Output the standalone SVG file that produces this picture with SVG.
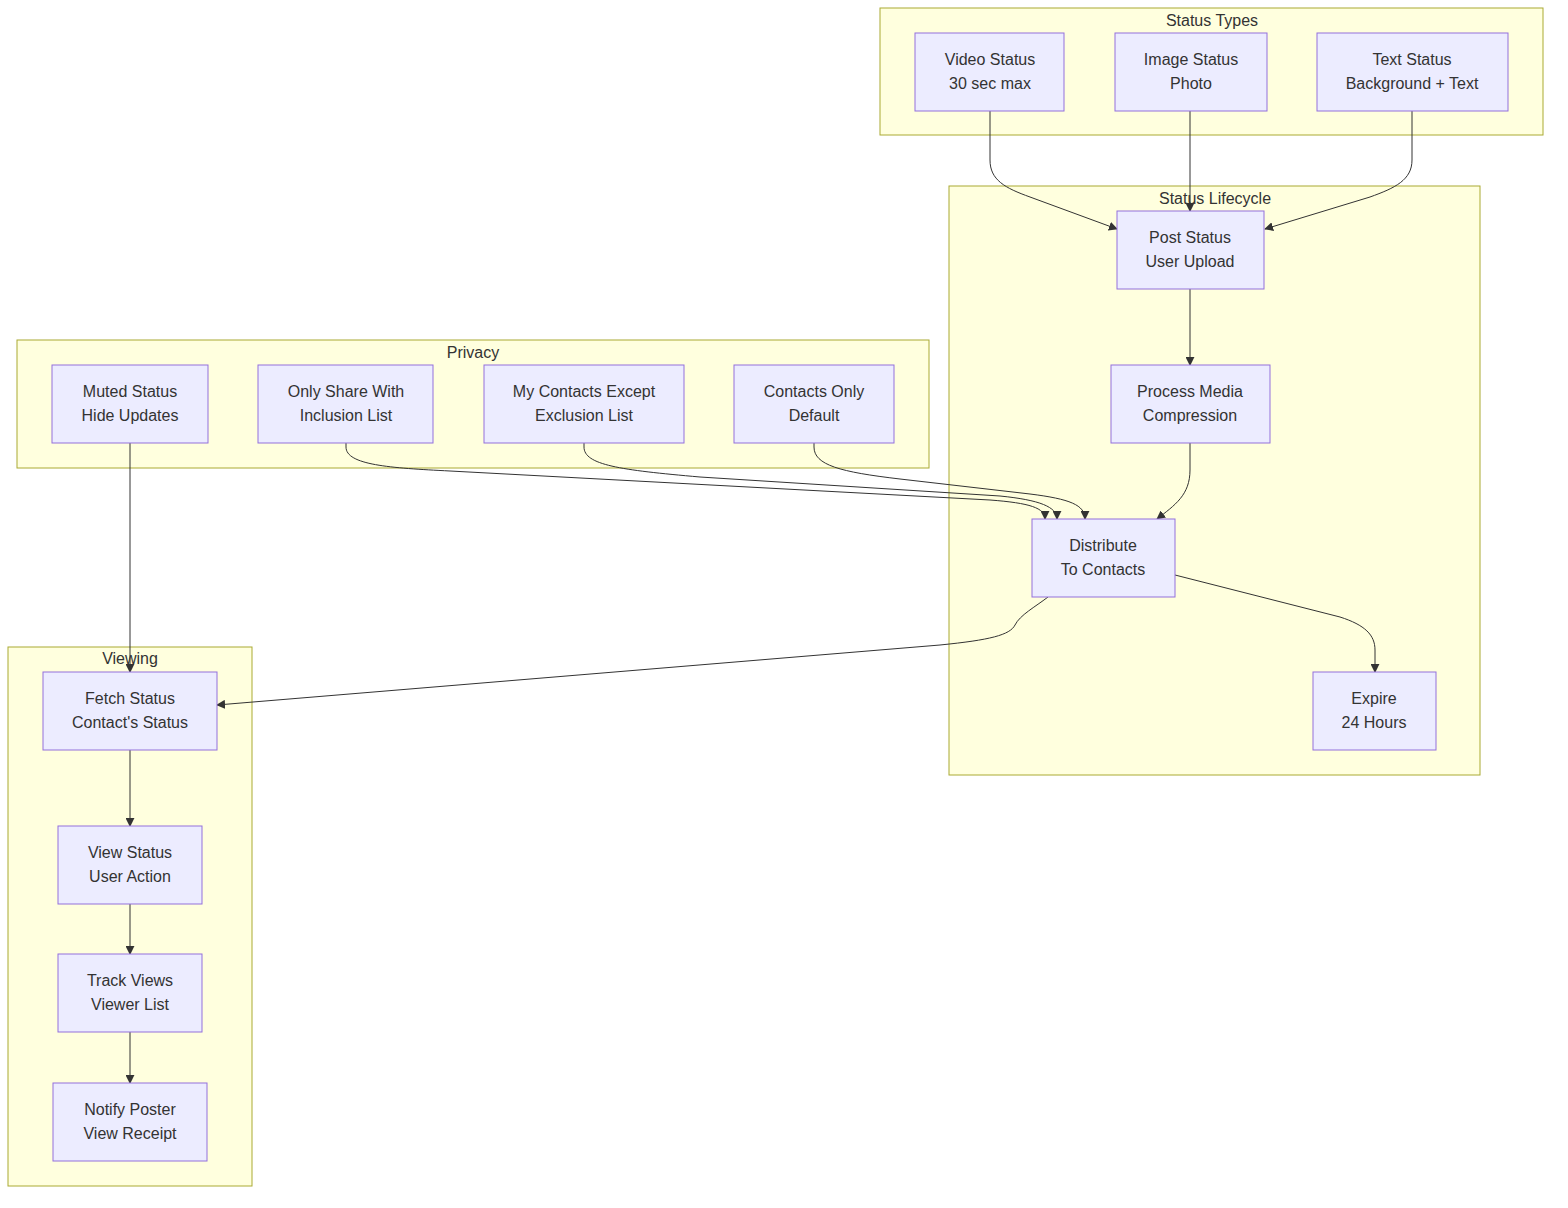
<svg xmlns="http://www.w3.org/2000/svg" width="1568" height="1208" viewBox="0 0 1568 1208">
<style>
.cl{fill:#ffffde;stroke:#aaaa33;stroke-width:1}
.nd{fill:#ececff;stroke:#9370db;stroke-width:1}
text{font-family:"Liberation Sans",Arial,sans-serif;font-size:16px;fill:#333333;text-anchor:middle;dominant-baseline:central}
.e{fill:none;stroke:#333333;stroke-width:1}
</style>
<defs>
<marker id="ah" viewBox="0 0 10 10" refX="9" refY="5" markerWidth="9" markerHeight="9" markerUnits="userSpaceOnUse" orient="auto">
<path d="M0,0 L10,5 L0,10 z" fill="#333333"/>
</marker>
</defs>
<rect width="1568" height="1208" fill="#ffffff"/>
<g id="clusters">
<g id="cl-types"><rect class="cl" x="880" y="8" width="663" height="127"/><text x="1212" y="20">Status Types</text></g>
<g id="cl-life"><rect class="cl" x="949" y="186" width="531" height="589"/><text x="1215" y="198">Status Lifecycle</text></g>
<g id="cl-privacy"><rect class="cl" x="17" y="340" width="912" height="128"/><text x="473" y="352">Privacy</text></g>
<g id="cl-viewing"><rect class="cl" x="8" y="647" width="244" height="539"/><text x="130" y="658">Viewing</text></g>
</g>
<g id="connectors">
<path class="e" marker-end="url(#ah)" d="M990,111 L990,160 C990,180 1005,188 1030,197 L1117,229"/>
<path class="e" marker-end="url(#ah)" d="M1190,111 L1190,211"/>
<path class="e" marker-end="url(#ah)" d="M1412,111 L1412,160 C1412,180 1395,188 1370,197 L1265,229"/>
<path class="e" marker-end="url(#ah)" d="M1190,289 L1190,365"/>
<path class="e" marker-end="url(#ah)" d="M1190,443 L1190,470 C1190,495 1175,505 1157,519"/>
<path class="e" marker-end="url(#ah)" d="M814,443 L814,447 C814,465 840,472 900,479 L1030,494 C1070,499 1085,505 1085,519"/>
<path class="e" marker-end="url(#ah)" d="M584,443 L584,447 C584,465 620,470 700,477 L1000,496 C1040,500 1057,507 1057,519"/>
<path class="e" marker-end="url(#ah)" d="M346,443 L346,447 C346,465 390,468 450,471 L990,500 C1030,503 1045,508 1045,519"/>
<path class="e" marker-end="url(#ah)" d="M130,443 L130,672"/>
<path class="e" marker-end="url(#ah)" d="M1048,597 C1035,607 1020,615 1015,625 C1010,635 990,640 940,645 L217,705"/>
<path class="e" marker-end="url(#ah)" d="M1175,575 L1340,617 C1365,625 1375,635 1375,650 L1375,672"/>
<path class="e" marker-end="url(#ah)" d="M130,750 L130,826"/>
<path class="e" marker-end="url(#ah)" d="M130,904 L130,954"/>
<path class="e" marker-end="url(#ah)" d="M130,1032 L130,1083"/>
</g>
<g id="n-video"><rect class="nd" x="915" y="33" width="149" height="78"/><text x="990" y="59">Video Status</text><text x="990" y="83">30 sec max</text></g>
<g id="n-image"><rect class="nd" x="1115" y="33" width="152" height="78"/><text x="1191" y="59">Image Status</text><text x="1191" y="83">Photo</text></g>
<g id="n-text"><rect class="nd" x="1317" y="33" width="191" height="78"/><text x="1412" y="59">Text Status</text><text x="1412" y="83">Background + Text</text></g>
<g id="n-post"><rect class="nd" x="1117" y="211" width="147" height="78"/><text x="1190" y="237">Post Status</text><text x="1190" y="261">User Upload</text></g>
<g id="n-process"><rect class="nd" x="1111" y="365" width="159" height="78"/><text x="1190" y="391">Process Media</text><text x="1190" y="415">Compression</text></g>
<g id="n-distribute"><rect class="nd" x="1032" y="519" width="143" height="78"/><text x="1103" y="545">Distribute</text><text x="1103" y="569">To Contacts</text></g>
<g id="n-expire"><rect class="nd" x="1313" y="672" width="123" height="78"/><text x="1374" y="698">Expire</text><text x="1374" y="722">24 Hours</text></g>
<g id="n-muted"><rect class="nd" x="52" y="365" width="156" height="78"/><text x="130" y="391">Muted Status</text><text x="130" y="415">Hide Updates</text></g>
<g id="n-only"><rect class="nd" x="258" y="365" width="175" height="78"/><text x="346" y="391">Only Share With</text><text x="346" y="415">Inclusion List</text></g>
<g id="n-except"><rect class="nd" x="484" y="365" width="200" height="78"/><text x="584" y="391">My Contacts Except</text><text x="584" y="415">Exclusion List</text></g>
<g id="n-contacts"><rect class="nd" x="734" y="365" width="160" height="78"/><text x="814" y="391">Contacts Only</text><text x="814" y="415">Default</text></g>
<g id="n-fetch"><rect class="nd" x="43" y="672" width="174" height="78"/><text x="130" y="698">Fetch Status</text><text x="130" y="722">Contact's Status</text></g>
<g id="n-view"><rect class="nd" x="58" y="826" width="144" height="78"/><text x="130" y="852">View Status</text><text x="130" y="876">User Action</text></g>
<g id="n-track"><rect class="nd" x="58" y="954" width="144" height="78"/><text x="130" y="980">Track Views</text><text x="130" y="1004">Viewer List</text></g>
<g id="n-notify"><rect class="nd" x="53" y="1083" width="154" height="78"/><text x="130" y="1109">Notify Poster</text><text x="130" y="1133">View Receipt</text></g>
</svg>
